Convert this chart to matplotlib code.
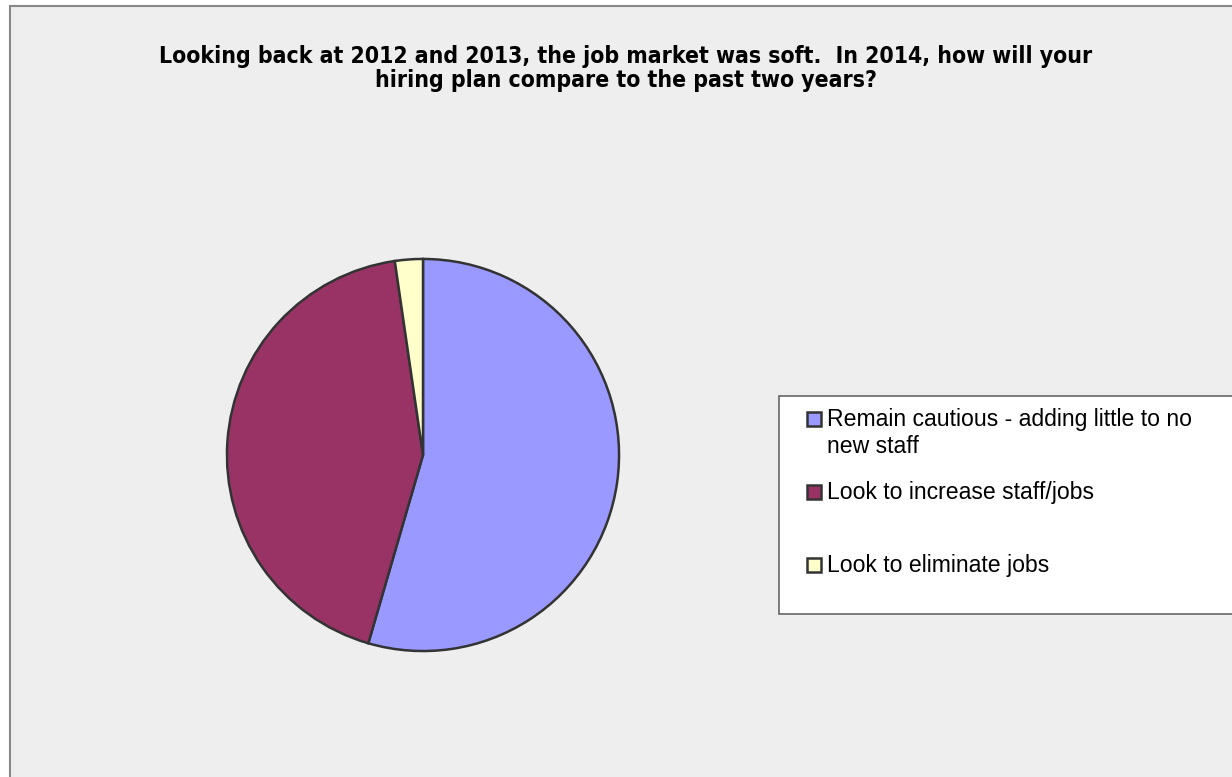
#!/usr/bin/env python3
"""Pie chart: 2014 hiring plans compared to 2012-2013."""

import matplotlib

matplotlib.use("Agg")

import matplotlib.pyplot as plt
from matplotlib import font_manager
from matplotlib.patches import Rectangle

W, H = 1232, 777

TITLE_LINES = [
    "Looking back at 2012 and 2013, the job market was soft.  In 2014, how will your",
    "hiring plan compare to the past two years?",
]
CATEGORIES = [
    "Remain cautious - adding little to no\nnew staff",
    "Look to increase staff/jobs",
    "Look to eliminate jobs",
]
SHARES = [54.5, 43.2, 2.3]
COLORS = ["#9999FF", "#993366", "#FFFFCC"]

BG = "#EEEEEE"
EDGE = "#333333"

fonts = font_manager.fontManager.ttflist
has_condensed = any(f.name == "DejaVu Sans" and f.stretch == "condensed" for f in fonts)
if has_condensed:
    TITLE_STYLE = {"family": "DejaVu Sans", "stretch": "condensed", "weight": "bold"}
else:
    TITLE_STYLE = {"family": "Liberation Sans", "weight": "bold"}
BODY_FONT = "Liberation Sans"


def fx(px: float) -> float:
    return px / W


def fy(py: float) -> float:
    # pixel rows counted from the top of the image
    return 1 - py / H


def fit_text(fig, text, width_px):
    renderer = fig.canvas.get_renderer()
    for _ in range(3):
        bb = text.get_window_extent(renderer)
        text.set_fontsize(text.get_fontsize() * width_px / bb.width)


fig = plt.figure(figsize=(W / 100, H / 100), dpi=100)
fig.patch.set_facecolor("white")

# chart area (runs past the right and bottom edges of the image)
fig.patches.append(
    Rectangle((fx(10), -0.05), 1.2, fy(6) + 0.05, transform=fig.transFigure,
              facecolor=BG, edgecolor="#888888", linewidth=1.5, zorder=-10)
)

# title
title_texts = []
for line, y in zip(TITLE_LINES, (56, 81)):
    t = fig.text(fx(626), fy(y), line, ha="center", va="center", fontsize=15,
                 color="black", **TITLE_STYLE)
    title_texts.append(t)
fit_text(fig, title_texts[0], 935)
title_texts[1].set_fontsize(title_texts[0].get_fontsize())

# pie
cx, cy, r = 423, 455, 198
ax = fig.add_axes([fx(cx - r), fy(cy + r), fx(2 * r), (2 * r) / H])
ax.set_zorder(5)
ax.pie(
    SHARES,
    colors=COLORS,
    startangle=90,
    counterclock=False,
    radius=1.0,
    wedgeprops={"edgecolor": EDGE, "linewidth": 1.8},
)
ax.set_xlim(-1.01, 1.01)
ax.set_ylim(-1.01, 1.01)
ax.set_aspect("auto")
ax.axis("off")

# legend box
fig.patches.append(
    Rectangle((fx(779), fy(614)), 1.0, (614 - 396) / H, transform=fig.transFigure,
              facecolor="white", edgecolor="#666666", linewidth=1.2, zorder=1)
)
entry_y = [419, 492, 565]
legend_texts = []
for label, color, y in zip(CATEGORIES, COLORS, entry_y):
    fig.patches.append(
        Rectangle((fx(807), fy(y + 7)), fx(14), 14 / H, transform=fig.transFigure,
                  facecolor=color, edgecolor=EDGE, linewidth=1.8, zorder=2)
    )
    t = fig.text(fx(827), fy(y - 11), label, ha="left", va="top", fontsize=14,
                 family=BODY_FONT, color="black", linespacing=1.25, zorder=3)
    legend_texts.append(t)

probe = fig.text(0, 0, CATEGORIES[0].split("\n")[0], fontsize=14, family=BODY_FONT)
fit_text(fig, probe, 366)
size = probe.get_fontsize()
probe.remove()
for t in legend_texts:
    t.set_fontsize(size)

fig.savefig("out.png", dpi=100, facecolor=fig.get_facecolor())
